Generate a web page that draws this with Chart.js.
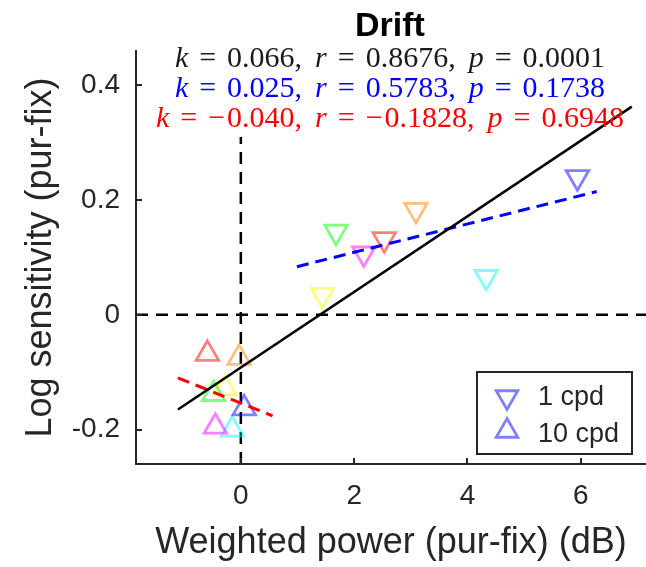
<!DOCTYPE html>
<html>
<head>
<meta charset="utf-8">
<script src="https://cdn.jsdelivr.net/npm/chart.js@4.4.0/dist/chart.umd.min.js"></script>
<style>
  html, body { margin: 0; padding: 0; background: #fff; }
</style>
</head>
<body>
<canvas id="grafico" width="646" height="567"></canvas>
<script>
// eixos
const xTicks = [0, 2, 4, 6];
const yTicks = [-0.2, 0, 0.2, 0.4];
const xLim = [-1.85, 7.15];
const yLim = [-0.26, 0.46];

// pontos: ordem vermelho, laranja, amarelo, verde, ciano, azul, magenta
const cpd1X = [2.53, 3.09, 1.44, 1.68, 4.33, 5.94, 2.17];
const cpd1Y = [0.132, 0.183, 0.035, 0.145, 0.066, 0.240, 0.107];
const cpd10X = [-0.59, -0.03, -0.28, -0.48, -0.15, 0.06, -0.45];
const cpd10Y = [-0.068, -0.075, -0.128, -0.138, -0.200, -0.163, -0.195];

// retas de ajuste
const fitTodosX = [-1.11, 6.9];
const fitTodosY = [-0.165, 0.363];
const fit1X = [0.99, 6.28];
const fit1Y = [0.084, 0.215];
const fit10X = [-1.11, 0.56];
const fit10Y = [-0.110, -0.176];

// linhas de referencia
const refVX = [0, 0];
const refVY = [-0.26, 0.31];
const refHX = [-1.85, 7.15];
const refHY = [0, 0];

// textos
const titulo = 'Drift';
const estatK = ['0.066', '0.025', '\u22120.040'];
const estatR = ['0.8676', '0.5783', '\u22120.1828'];
const estatP = ['0.0001', '0.1738', '0.6948'];
const legendaNomes = ['1 cpd', '10 cpd'];

const coresPontos = [
    'rgba(255,0,0,0.5)', 'rgba(255,128,0,0.5)', 'rgba(255,255,0,0.5)',
    'rgba(0,255,0,0.5)', 'rgba(0,255,255,0.5)', 'rgba(0,0,255,0.5)',
    'rgba(255,0,255,0.5)'
];
const estatCores = ['#1a1a1a', '#0000ff', '#ff0000'];
const cinza = '#262626';

function pares(xs, ys) {
    return xs.map((x, i) => ({ x: x, y: ys[i] }));
}

function triangulo(ctx, x, y, r, baixo) {
    const s = baixo ? -1 : 1;
    ctx.beginPath();
    ctx.moveTo(x, y - s * r);
    ctx.lineTo(x + r * 0.866, y + s * r / 2);
    ctx.lineTo(x - r * 0.866, y + s * r / 2);
    ctx.closePath();
    ctx.stroke();
}

function numero(partes, txt) {
    // o sinal de menos do LaTeX e um pouco mais largo
    if (txt[0] === '\u2212') {
        partes.push({ t: '\u2212' }, { g: 2 }, { t: txt.slice(1) });
    } else {
        partes.push({ t: txt });
    }
}

function desenhaEstat(ctx, i, cx, base) {
    const tam = 30;
    const normal = tam + 'px "Liberation Serif"';
    const italico = 'italic ' + tam + 'px "Liberation Serif"';
    const gIgual = 11, gVirg = 13;
    const partes = [];
    [['k', estatK[i]], ['r', estatR[i]], ['p', estatP[i]]].forEach((par, j) => {
        partes.push({ t: par[0], i: true }, { g: gIgual }, { t: '=' }, { g: gIgual });
        numero(partes, par[1]);
        if (j < 2) partes.push({ t: ',' }, { g: gVirg });
    });
    let total = 0;
    const larg = partes.map(p => {
        if (p.g) { total += p.g; return p.g; }
        ctx.font = p.i ? italico : normal;
        const w = ctx.measureText(p.t).width;
        total += w;
        return w;
    });
    let x = cx - total / 2;
    ctx.fillStyle = estatCores[i];
    ctx.textAlign = 'left';
    ctx.textBaseline = 'alphabetic';
    partes.forEach((p, k) => {
        if (!p.g) {
            ctx.font = p.i ? italico : normal;
            ctx.fillText(p.t, x, base);
        }
        x += larg[k];
    });
}

const extras = {
    id: 'extras',
    afterDraw(chart) {
        const { ctx, chartArea, scales: { x, y } } = chart;
        ctx.save();

        // ticks para dentro
        ctx.strokeStyle = cinza;
        ctx.lineWidth = 2;
        xTicks.forEach(v => {
            const px = Math.round(x.getPixelForValue(v));
            ctx.beginPath();
            ctx.moveTo(px, chartArea.bottom);
            ctx.lineTo(px, chartArea.bottom - 6);
            ctx.stroke();
        });
        yTicks.forEach(v => {
            const py = Math.round(y.getPixelForValue(v));
            ctx.beginPath();
            ctx.moveTo(chartArea.left, py);
            ctx.lineTo(chartArea.left + 6, py);
            ctx.stroke();
        });

        // titulo e estatisticas
        ctx.fillStyle = '#000';
        ctx.font = 'bold 34px "Liberation Sans"';
        ctx.textAlign = 'center';
        ctx.textBaseline = 'alphabetic';
        ctx.fillText(titulo, 390, 36);
        [67, 97, 127].forEach((b, i) => desenhaEstat(ctx, i, 390, b));

        // legenda
        ctx.fillStyle = '#fff';
        ctx.fillRect(477, 372, 155, 82);
        ctx.strokeStyle = cinza;
        ctx.lineWidth = 2;
        ctx.strokeRect(477, 372, 155, 82);
        ctx.strokeStyle = coresPontos[5];
        ctx.lineWidth = 2.8;
        triangulo(ctx, 507, 397, 12.5, true);
        triangulo(ctx, 507, 431, 12.5, false);
        ctx.fillStyle = cinza;
        ctx.font = '27px "Liberation Sans"';
        ctx.textAlign = 'left';
        ctx.fillText(legendaNomes[0], 538, 405);
        ctx.fillText(legendaNomes[1], 538, 442);

        ctx.restore();
    }
};

const fonteEixo = { family: 'Liberation Sans', size: 28 };
const fonteTitulo = { family: 'Liberation Sans', size: 36 };

const ctx = document.getElementById('grafico').getContext('2d');
new Chart(ctx, {
    type: 'scatter',
    data: {
        datasets: [
            {
                data: pares(fitTodosX, fitTodosY), showLine: true, borderColor: '#000',
                borderWidth: 2.5, pointRadius: 0, order: 1
            },
            {
                data: pares(fit1X, fit1Y), showLine: true, borderColor: '#0000ff',
                borderWidth: 3, borderDash: [12, 7], pointRadius: 0, order: 1
            },
            {
                data: pares(fit10X, fit10Y), showLine: true, borderColor: '#ff0000',
                borderWidth: 3, borderDash: [12, 7], pointRadius: 0, order: 1
            },
            {
                data: pares(cpd1X, cpd1Y), pointStyle: 'triangle', rotation: 180,
                pointRadius: 13, pointBorderWidth: 2.8, pointBorderColor: coresPontos,
                pointBackgroundColor: 'rgba(0,0,0,0)', order: 2
            },
            {
                data: pares(cpd10X, cpd10Y), pointStyle: 'triangle',
                pointRadius: 13, pointBorderWidth: 2.8, pointBorderColor: coresPontos,
                pointBackgroundColor: 'rgba(0,0,0,0)', order: 2
            },
            {
                data: pares(refVX, refVY), showLine: true, borderColor: '#000',
                borderWidth: 2.5, borderDash: [12, 8], pointRadius: 0, order: 3
            },
            {
                data: pares(refHX, refHY), showLine: true, borderColor: '#000',
                borderWidth: 2.5, borderDash: [12, 8], pointRadius: 0, order: 3
            }
        ]
    },
    options: {
        responsive: false,
        animation: false,
        events: [],
        layout: { autoPadding: false, padding: { top: 51, right: 0, left: 0, bottom: 0 } },
        plugins: { legend: { display: false }, tooltip: { enabled: false } },
        scales: {
            x: {
                type: 'linear', min: xLim[0], max: xLim[1],
                afterBuildTicks: s => { s.ticks = xTicks.map(v => ({ value: v })); },
                afterFit: s => { s.height = 103; s.paddingLeft = 0; s.paddingRight = 0; },
                grid: { display: false, drawTicks: false },
                border: { display: true, color: cinza, width: 2 },
                ticks: { color: cinza, font: fonteEixo, padding: 15, maxRotation: 0, autoSkip: false,
                         callback: v => String(v) },
                title: { display: true, text: 'Weighted power (pur-fix) (dB)', color: cinza,
                         font: fonteTitulo, padding: { top: 0, bottom: 2 } }
            },
            y: {
                type: 'linear', min: yLim[0], max: yLim[1],
                afterBuildTicks: s => { s.ticks = yTicks.map(v => ({ value: v })); },
                afterFit: s => { s.width = 136; s.paddingTop = 0; s.paddingBottom = 0; },
                grid: { display: false, drawTicks: false },
                border: { display: true, color: cinza, width: 2 },
                ticks: { color: cinza, font: fonteEixo, padding: 16, autoSkip: false,
                         callback: v => String(v) },
                title: { display: true, text: 'Log sensitivity (pur-fix)', color: cinza,
                         font: fonteTitulo, padding: { top: 19, bottom: 0 } }
            }
        }
    },
    plugins: [extras]
});
</script>
</body>
</html>
